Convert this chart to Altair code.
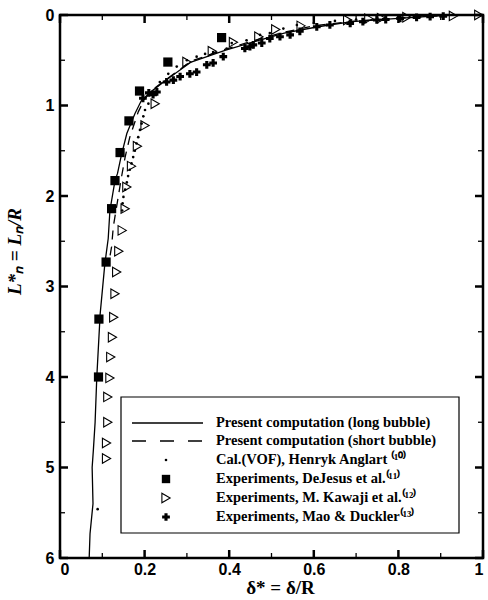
import altair as alt
import pandas as pd

# ---------------- data ----------------
long_x = [0.95, 0.92, 0.80, 0.69, 0.61, 0.53, 0.47, 0.39, 0.31, 0.25, 0.22, 0.193, 0.177, 0.158, 0.145, 0.136, 0.130, 0.118, 0.114, 0.106, 0.095, 0.087, 0.083, 0.079, 0.076, 0.078, 0.071, 0.069]
long_y = [0.0, 0.0, 0.037, 0.074, 0.13, 0.20, 0.28, 0.39, 0.52, 0.72, 0.83, 0.94, 1.09, 1.31, 1.55, 1.75, 1.83, 2.16, 2.47, 2.75, 3.30, 4.00, 4.50, 4.80, 5.00, 5.40, 5.73, 6.00]

short_x = [0.93, 0.80, 0.69, 0.60, 0.53, 0.46, 0.39, 0.31, 0.255, 0.22, 0.20, 0.185, 0.165, 0.154, 0.145, 0.138, 0.126, 0.122, 0.115]
short_y = [0.0, 0.035, 0.07, 0.12, 0.19, 0.28, 0.38, 0.51, 0.70, 0.82, 0.93, 1.07, 1.35, 1.57, 1.80, 2.00, 2.34, 2.56, 2.75]

vof_x = [0.90, 0.85, 0.80, 0.75, 0.70, 0.65, 0.60, 0.56, 0.528, 0.496, 0.473, 0.441, 0.406, 0.394, 0.362, 0.343, 0.323, 0.300, 0.276, 0.256, 0.236, 0.217, 0.209, 0.201, 0.197, 0.193, 0.189, 0.185, 0.181, 0.177, 0.173, 0.169, 0.165, 0.161, 0.158, 0.154, 0.150, 0.148, 0.147, 0.089]
vof_y = [0.008, 0.015, 0.025, 0.035, 0.05, 0.065, 0.09, 0.11, 0.15, 0.20, 0.22, 0.28, 0.31, 0.37, 0.41, 0.43, 0.46, 0.50, 0.57, 0.65, 0.74, 0.85, 0.98, 1.05, 1.12, 1.20, 1.27, 1.35, 1.42, 1.50, 1.57, 1.64, 1.71, 1.78, 1.85, 1.93, 2.01, 2.08, 2.16, 5.46]

dej_x = [0.382, 0.255, 0.188, 0.163, 0.142, 0.130, 0.122, 0.109, 0.092, 0.091]
dej_y = [0.25, 0.52, 0.84, 1.17, 1.52, 1.83, 2.14, 2.73, 3.36, 4.00]

kaw_x = [0.99, 0.93, 0.82, 0.76, 0.73, 0.68, 0.57, 0.51, 0.47, 0.41, 0.36, 0.30, 0.225, 0.201, 0.183, 0.169, 0.158, 0.154, 0.147, 0.139, 0.134, 0.130, 0.127, 0.124, 0.120, 0.118, 0.113, 0.113, 0.110, 0.110]
kaw_y = [0.0, 0.01, 0.025, 0.035, 0.04, 0.055, 0.12, 0.16, 0.24, 0.30, 0.40, 0.52, 0.98, 1.22, 1.45, 1.67, 1.90, 2.14, 2.38, 2.61, 2.84, 3.08, 3.34, 3.56, 3.78, 4.01, 4.22, 4.50, 4.73, 4.90]

mao_x = [0.906, 0.875, 0.843, 0.804, 0.77, 0.749, 0.716, 0.686, 0.638, 0.607, 0.567, 0.544, 0.52, 0.496, 0.477, 0.457, 0.449, 0.437, 0.386, 0.362, 0.347, 0.323, 0.307, 0.284, 0.268, 0.252, 0.229, 0.22, 0.21, 0.196]
mao_y = [0.013, 0.018, 0.026, 0.037, 0.05, 0.055, 0.074, 0.092, 0.11, 0.13, 0.18, 0.22, 0.24, 0.26, 0.31, 0.33, 0.35, 0.37, 0.46, 0.53, 0.55, 0.63, 0.65, 0.68, 0.72, 0.74, 0.85, 0.88, 0.86, 0.92]

x_major = [0, 0.2, 0.4, 0.6, 0.8, 1.0]
x_minor = [0.1, 0.3, 0.5, 0.7, 0.9]
y_major = [0, 1, 2, 3, 4, 5, 6]
y_minor = [0.5, 1.5, 2.5, 3.5, 4.5, 5.5]

legend_labels = [
    "Present computation (long bubble)",
    "Present computation (short bubble)",
    "Cal.(VOF), Henryk Anglart \u207d\u00b9\u2070\u207e",
    "Experiments, DeJesus et al.\u207d\u00b9\u00b9\u207e",
    "Experiments, M. Kawaji et al.\u207d\u00b9\u00b2\u207e",
    "Experiments, Mao & Duckler\u207d\u00b9\u00b3\u207e",
]

W, H = 423, 543

# ---------------- scales ----------------
xs = alt.Scale(domain=[0, 1], nice=False, zero=False)
ys = alt.Scale(domain=[0, 6], reverse=True, nice=False, zero=False)
sans = "Liberation Sans"
serif = "Liberation Serif"

x_enc = alt.X("x:Q", scale=xs,
              axis=alt.Axis(values=x_major, ticks=False, domain=False, grid=False,
                            labelFont=sans, labelFontSize=16, labelFontWeight="bold",
                            labelColor="black", labelPadding=3,
                            labelExpr="datum.value == 0 ? '0' : datum.value == 1 ? '1' : format(datum.value, '.1f')",
                            title="\u03b4* = \u03b4/R", titleFont=serif, titleFontSize=19,
                            titleFontWeight="bold", titleColor="black", titlePadding=1,
                            titleX=220))
y_enc = alt.Y("y:Q", scale=ys,
              axis=alt.Axis(values=y_major, ticks=False, domain=False, grid=False, format="d",
                            labelFont=sans, labelFontSize=16, labelFontWeight="bold",
                            labelColor="black", labelPadding=6,
                            title="L*\u2099 = L\u2099/R", titleFont=serif, titleFontSize=19,
                            titleFontWeight="bold", titleFontStyle="italic",
                            titleColor="black", titleX=-36, titleY=236))

def df(xv, yv):
    return pd.DataFrame({"x": xv, "y": yv, "i": list(range(len(xv)))})

base_long = alt.Chart(df(long_x, long_y)).mark_line(color="black", strokeWidth=1.3).encode(
    x=x_enc, y=y_enc, order="i:Q")
base_short = alt.Chart(df(short_x, short_y)).mark_line(color="black", strokeWidth=1.3, strokeDash=[9, 7]).encode(
    x="x:Q", y="y:Q", order="i:Q")
dots = alt.Chart(df(vof_x, vof_y)).mark_point(shape="circle", filled=True, color="black", size=7, opacity=1).encode(
    x="x:Q", y="y:Q")
squares = alt.Chart(df(dej_x, dej_y)).mark_point(shape="square", filled=True, color="black", size=85, opacity=1).encode(
    x="x:Q", y="y:Q")
tris = alt.Chart(df(kaw_x, kaw_y)).mark_point(shape="triangle-right", filled=False, color="black", size=90,
                                               strokeWidth=1.1, opacity=1).encode(x="x:Q", y="y:Q")
crosses = alt.Chart(df(mao_x, mao_y)).mark_point(shape="cross", filled=True, color="black", size=60, opacity=1).encode(
    x="x:Q", y="y:Q")

# inward ticks
xmaj = pd.DataFrame({"x": x_major})
xmin = pd.DataFrame({"x": x_minor})
ymaj = pd.DataFrame({"y": y_major})
ymin = pd.DataFrame({"y": y_minor})
tk = []
for d, ln, sw in [(xmaj, 8, 2.5), (xmin, 5, 1.3)]:
    tk.append(alt.Chart(d).mark_rule(color="black", strokeWidth=sw).encode(x="x:Q", y=alt.value(H), y2=alt.value(H - ln)))
    tk.append(alt.Chart(d).mark_rule(color="black", strokeWidth=sw).encode(x="x:Q", y=alt.value(0), y2=alt.value(ln)))
for d, ln, sw in [(ymaj, 8, 2.5), (ymin, 5, 1.3)]:
    tk.append(alt.Chart(d).mark_rule(color="black", strokeWidth=sw).encode(y="y:Q", x=alt.value(0), x2=alt.value(ln)))
    tk.append(alt.Chart(d).mark_rule(color="black", strokeWidth=sw).encode(y="y:Q", x=alt.value(W), x2=alt.value(W - ln)))

# legend (drawn by hand)
lx0, lx1, ly0, ly1 = 61, 399, 382, 518
rows = [408, 426, 445, 464, 483, 502]
box = alt.Chart(pd.DataFrame({"a": [0]})).mark_rect(fill="white", stroke="black", strokeWidth=1.2).encode(
    x=alt.value(lx0), x2=alt.value(lx1), y=alt.value(ly0), y2=alt.value(ly1))
leg_txt = alt.Chart(pd.DataFrame({"t": legend_labels, "r": rows})).mark_text(
    align="left", baseline="middle", font=serif, fontSize=14.5, fontWeight="bold", color="black").encode(
    text="t:N", x=alt.value(156), y=alt.Y("r:Q", scale=None))
leg_l1 = alt.Chart(pd.DataFrame({"a": [0]})).mark_rule(color="black", strokeWidth=1.3).encode(
    x=alt.value(72), x2=alt.value(143), y=alt.value(rows[0]))
leg_l2 = alt.Chart(pd.DataFrame({"a": [0]})).mark_rule(color="black", strokeWidth=1.3, strokeDash=[14, 14]).encode(
    x=alt.value(72), x2=alt.value(143), y=alt.value(rows[1]))
leg_dot = alt.Chart(pd.DataFrame({"a": [0]})).mark_point(shape="circle", filled=True, color="black", size=7, opacity=1).encode(
    x=alt.value(106), y=alt.value(rows[2]))
leg_sq = alt.Chart(pd.DataFrame({"a": [0]})).mark_point(shape="square", filled=True, color="black", size=70, opacity=1).encode(
    x=alt.value(106), y=alt.value(rows[3]))
leg_tr = alt.Chart(pd.DataFrame({"a": [0]})).mark_point(shape="triangle-right", filled=False, color="black", size=90, strokeWidth=1.1, opacity=1).encode(
    x=alt.value(106), y=alt.value(rows[4]))
leg_cr = alt.Chart(pd.DataFrame({"a": [0]})).mark_point(shape="cross", filled=True, color="black", size=60, opacity=1).encode(
    x=alt.value(106), y=alt.value(rows[5]))

chart = alt.layer(base_long, base_short, dots, squares, tris, crosses, *tk,
                  box, leg_l1, leg_l2, leg_dot, leg_sq, leg_tr, leg_cr, leg_txt).properties(
    width=W, height=H,
    autosize=alt.AutoSizeParams(type="none"),
    padding={"left": 60, "top": 15, "right": 5, "bottom": 42},
    background="white",
).configure_view(stroke="black", strokeWidth=2.5)

chart.save("out.html", embed_options={"renderer": "svg", "actions": False})
